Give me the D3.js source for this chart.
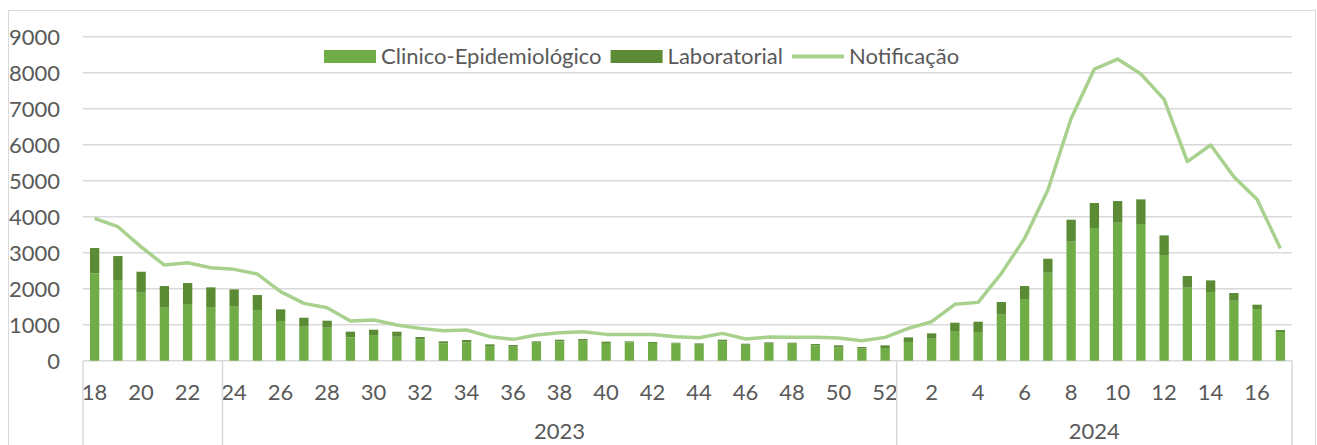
<!DOCTYPE html>
<html lang="pt">
<head>
<meta charset="UTF-8">
<title>Casos por semana epidemiológica</title>
<style>
  body { margin: 0; background: #fff; }
  svg text { font-family: Lato, "Open Sans", sans-serif; fill: #595959; }
</style>
</head>
<body>
<div id="chart"></div>
<script src="https://d3js.org/d3.v7.min.js"></script>
<script>
// semanas epidemiológicas: 18-52 de 2023, 1-17 de 2024
const weeks = [18,19,20,21,22,23,24,25,26,27,28,29,30,31,32,33,34,35,36,37,38,39,40,41,42,43,44,45,46,47,48,49,50,51,52,
               1,2,3,4,5,6,7,8,9,10,11,12,13,14,15,16,17];
// grupos do eixo (o primeiro fica sem rótulo)
const groups = [
  { label: "", from: 0, to: 5 },
  { label: "2023", from: 6, to: 34 },
  { label: "2024", from: 35, to: 51 }
];

const clinico = [2426,2241,1889,1472,1574,1472,1500,1407,1102,963,917,648,713,667,593,481,509,407,389,500,537,556,491,509,491,481,444,537,444,472,472,426,370,343,352,
                 519,611,824,796,1278,1713,2444,3306,3685,3833,3796,2935,2028,1907,1667,1435,796];
const laboratorial = [704,666,583,602,583,565,481,417,324,231,194,158,148,139,64,56,65,47,46,37,46,46,37,28,28,19,37,46,28,37,28,37,56,37,74,
                      129,148,232,287,352,361,389,611,695,602,685,546,324,324,213,121,56];
const notificacao = [3954,3722,3160,2657,2722,2583,2537,2407,1917,1593,1472,1102,1130,991,898,830,852,667,593,713,778,806,731,731,731,667,639,759,602,657,648,648,630,556,648,
                     898,1083,1565,1620,2426,3398,4741,6731,8102,8380,7963,7259,5528,5991,5111,4481,3120];

const yTicks = [0,1000,2000,3000,4000,5000,6000,7000,8000,9000];

const W = 1317, H = 445;
const plot = { left: 83, right: 1292, top: 36.7, bottom: 360.7 };
const fontSize = "22px";

const svg = d3.select("#chart").append("svg")
  .attr("width", W).attr("height", H);

// borda da área do gráfico
svg.append("rect")
  .attr("x", 8.5).attr("y", 10.5)
  .attr("width", 1307).attr("height", H)
  .attr("fill", "none").attr("stroke", "#d9d9d9").attr("stroke-width", 1);

const idx = weeks.map((d, i) => i);
const x = d3.scaleBand().domain(idx).range([plot.left, plot.right])
  .paddingInner(0.6).paddingOuter(0.3);
const y = d3.scaleLinear().domain([0, 9000]).range([plot.bottom, plot.top]);

// grade
svg.append("g").selectAll("line").data(yTicks).join("line")
  .attr("x1", plot.left).attr("x2", plot.right)
  .attr("y1", d => y(d)).attr("y2", d => y(d))
  .attr("stroke", "#d9d9d9").attr("stroke-width", 1.5);

// rótulos do eixo y
svg.append("g").selectAll("text").data(yTicks).join("text")
  .attr("x", 60).attr("y", d => y(d))
  .attr("dy", "0.36em")
  .attr("text-anchor", "end")
  .style("font-size", fontSize)
  .text(d => d);

// barras empilhadas
const rows = idx.map(i => ({ i, clinico: clinico[i], laboratorial: laboratorial[i] }));
const stack = d3.stack().keys(["clinico", "laboratorial"])(rows);
const colors = { clinico: "#70ad47", laboratorial: "#5b8c35" };

svg.append("g").selectAll("g").data(stack).join("g")
  .attr("fill", s => colors[s.key])
  .selectAll("rect").data(s => s).join("rect")
  .attr("x", d => x(d.data.i))
  .attr("width", x.bandwidth())
  .attr("y", d => y(d[1]))
  .attr("height", d => y(d[0]) - y(d[1]));

// linha de notificação
const line = d3.line()
  .x((d, i) => x(i) + x.bandwidth() / 2)
  .y(d => y(d));
svg.append("path").datum(notificacao)
  .attr("d", line)
  .attr("fill", "none")
  .attr("stroke", "#a9d18e")
  .attr("stroke-width", 3.5)
  .attr("stroke-linejoin", "round");

// eixo de categorias (semanas)
svg.append("g").selectAll("text").data(idx.filter(i => i % 2 === 0)).join("text")
  .attr("x", i => x(i) + x.bandwidth() / 2)
  .attr("y", 392)
  .attr("dy", "0.36em")
  .attr("text-anchor", "middle")
  .style("font-size", fontSize)
  .text(i => weeks[i]);

// separadores de grupo
const step = x.step();
const edges = [plot.left].concat(groups.map(g => plot.left + (g.to + 1) * step));
svg.append("g").selectAll("line").data(edges).join("line")
  .attr("x1", d => d).attr("x2", d => d)
  .attr("y1", plot.bottom).attr("y2", H)
  .attr("stroke", "#d9d9d9").attr("stroke-width", 1.5);

svg.append("g").selectAll("text").data(groups).join("text")
  .attr("x", g => plot.left + (g.from + g.to + 1) / 2 * step)
  .attr("y", 439)
  .attr("text-anchor", "middle")
  .style("font-size", fontSize)
  .text(g => g.label);

// legenda
const legendItems = [
  { name: "Clinico-Epidemiológico", type: "bar", color: colors.clinico },
  { name: "Laboratorial", type: "bar", color: colors.laboratorial },
  { name: "Notificação", type: "line", color: "#a9d18e" }
];
const legend = svg.append("g");
let lx = 324;
const ly = 56.5;
legendItems.forEach(item => {
  if (item.type === "bar") {
    legend.append("rect").attr("x", lx).attr("y", ly - 6.5)
      .attr("width", 52).attr("height", 13).attr("fill", item.color);
  } else {
    legend.append("line").attr("x1", lx).attr("x2", lx + 52)
      .attr("y1", ly).attr("y2", ly)
      .attr("stroke", item.color).attr("stroke-width", 4);
  }
  const t = legend.append("text").attr("x", lx + 57).attr("y", ly)
    .attr("dy", "0.36em").style("font-size", fontSize).text(item.name);
  lx += 57 + t.node().getComputedTextLength() + 9;
});
</script>
</body>
</html>
